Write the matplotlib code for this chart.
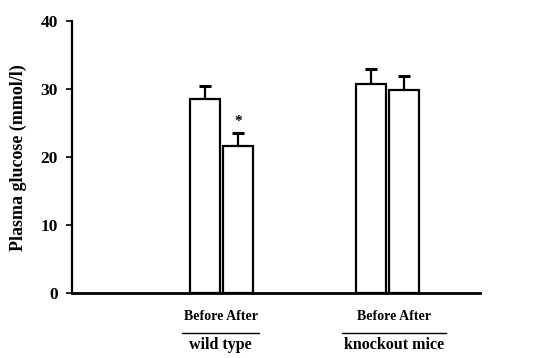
import matplotlib
matplotlib.use("Agg")
import matplotlib.pyplot as plt
from matplotlib.transforms import blended_transform_factory

plt.rcParams['font.family'] = ['Liberation Serif', 'DejaVu Serif']
plt.rcParams['font.weight'] = 'bold'

groups = ["wild type", "knockout mice"]
conditions = ["Before", "After"]
means = {"wild type": [28.6, 21.6], "knockout mice": [30.7, 29.9]}
errors = {"wild type": [1.8, 2.0], "knockout mice": [2.2, 2.0]}
significance = {"wild type": ["", "*"], "knockout mice": ["", ""]}
y_ticks = [0, 10, 20, 30, 40]

group_centers = [4.98, 10.53]
label_centers = [4.95, 10.72]
line_half = [1.27, 1.73]
offset = 0.55
bar_w = 1.0

fig = plt.figure(figsize=(5.36, 3.58), dpi=100)
ax = fig.add_axes([72/536, 1-293/358, (480-72)/536, (293-21)/358])

trans = blended_transform_factory(ax.transData, ax.transAxes)
for gi, g in enumerate(groups):
    c = group_centers[gi]
    xs = [c - offset, c + offset]
    ax.bar(xs, means[g], width=bar_w, color='white', edgecolor='black', linewidth=1.6, zorder=2)
    ax.errorbar(xs, means[g], yerr=[[0, 0], errors[g]], fmt='none', ecolor='black',
                elinewidth=1.6, capsize=4, capthick=2.2, zorder=1)
    for x, m, e, s in zip(xs, means[g], errors[g], significance[g]):
        if s:
            ax.text(x, m + e + 0.6, s, ha='center', va='bottom', fontsize=11, fontweight='bold')
    lc = label_centers[gi]
    ax.text(lc, -0.085, " ".join(conditions), transform=trans, ha='center', va='center',
            fontsize=10, fontweight='bold')
    ax.plot([lc - line_half[gi], lc + line_half[gi]], [-0.147, -0.147], transform=trans,
            color='black', linewidth=1.0, clip_on=False)
    ax.text(lc, -0.19, g, transform=trans, ha='center', va='center', fontsize=11.5,
            fontweight='bold')

ax.set_xlim(0, 13.6)
ax.set_ylim(0, 40)
ax.set_yticks(y_ticks)
ax.set_yticklabels([str(t) for t in y_ticks], fontsize=12.5, fontweight='bold')
ax.set_xticks([])
ax.spines['top'].set_visible(False)
ax.spines['right'].set_visible(False)
ax.spines['left'].set_linewidth(1.6)
ax.spines['bottom'].set_linewidth(2.0)
ax.tick_params(axis='y', direction='out', length=4, width=1.2, pad=6)
ax.set_ylabel("Plasma glucose (mmol/l)", fontsize=13, fontweight='bold')
ax.yaxis.set_label_coords(-(72 - 27) / 408, (293 - 158) / 272)

fig.savefig("out.png", dpi=100)
